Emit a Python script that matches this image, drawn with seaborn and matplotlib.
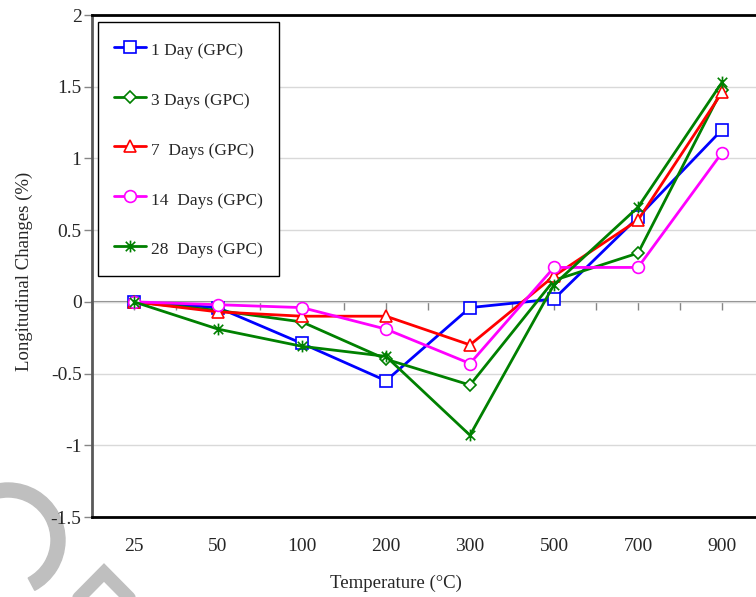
import numpy as np
import pandas as pd
import matplotlib
matplotlib.use("Agg")
import matplotlib.pyplot as plt
import seaborn as sns
from matplotlib.path import Path
from matplotlib.patches import Wedge
from matplotlib.lines import Line2D
from matplotlib.transforms import IdentityTransform

# data
temps = ["25", "50", "100", "200", "300", "500", "700", "900"]
day1 = [0, -0.04, -0.29, -0.55, -0.04, 0.02, 0.59, 1.20]
day3 = [0, -0.06, -0.14, -0.40, -0.58, 0.15, 0.34, 1.48]
day7 = [0, -0.07, -0.10, -0.10, -0.30, 0.18, 0.57, 1.46]
day14 = [0, -0.02, -0.04, -0.19, -0.43, 0.24, 0.24, 1.04]
day28 = [0, -0.19, -0.31, -0.38, -0.93, 0.12, 0.66, 1.53]
labels = ["1 Day (GPC)", "3 Days (GPC)", "7  Days (GPC)", "14  Days (GPC)", "28  Days (GPC)"]
yticks = [-1.5, -1, -0.5, 0, 0.5, 1, 1.5, 2]
ytick_labels = ["-1.5", "-1", "-0.5", "0", "0.5", "1", "1.5", "2"]

# excel style star: an X with a vertical stroke
star = Path([(0, -1), (0, 1), (-0.8, -0.8), (0.8, 0.8), (-0.8, 0.8), (0.8, -0.8)],
            [Path.MOVETO, Path.LINETO, Path.MOVETO, Path.LINETO, Path.MOVETO, Path.LINETO])

series = [day1, day3, day7, day14, day28]
colors = ["#0000ff", "#008000", "#ff0000", "#ff00ff", "#008000"]
markers = ["s", "D", "^", "o", star]
msizes = [8, 6.5, 8.5, 8.5, 8.5]

sns.set_style("white")
plt.rcParams["font.family"] = ["Liberation Serif", "DejaVu Serif"]
plt.rcParams["axes.unicode_minus"] = False

fig = plt.figure(figsize=(7.56, 5.97), dpi=100)
ax = fig.add_axes([92 / 756, 80 / 597, 672 / 756, 502 / 597])

xpos = np.arange(len(temps))
for vals, c, m, ms, lab in zip(series, colors, markers, msizes, labels):
    df = pd.DataFrame({"x": xpos, "y": vals})
    sns.lineplot(data=df, x="x", y="y", ax=ax, color=c, marker=m, markersize=ms,
                 markerfacecolor="white", markeredgecolor=c, markeredgewidth=1.2,
                 linewidth=2, label=lab, sort=False)

ax.set_xlim(-0.5, 7.5)
ax.set_ylim(-1.5, 2)
ax.set_xticks(xpos)
ax.set_xticklabels(temps)
ax.set_yticks(yticks)
ax.set_yticklabels(ytick_labels)
ax.tick_params(axis="x", length=0, pad=15, labelsize=14)
ax.tick_params(axis="y", direction="out", length=6, width=1, color="#868686",
               pad=1.5, labelsize=14, left=True)
ax.yaxis.grid(True, color="#d9d9d9", linewidth=1)
ax.xaxis.grid(False)

for side in ["top", "bottom"]:
    ax.spines[side].set_color("black")
    ax.spines[side].set_linewidth(2)
ax.spines["left"].set_color("#595959")
ax.spines["left"].set_linewidth(2)
ax.spines["right"].set_visible(False)

# category axis crossing at y = 0
sec = ax.secondary_xaxis(1.5 / 3.5)
sec.set_xticks(np.arange(-0.5, 7.6, 0.5))
sec.tick_params(direction="out", length=6, width=1, color="#868686",
                labelbottom=False, labeltop=False)
for sp in sec.spines.values():
    sp.set_color("#868686")
    sp.set_linewidth(1.5)

ax.set_xlabel("Temperature (°C)", fontsize=13.5)
ax.set_ylabel("Longitudinal Changes (%)", fontsize=13.5)
ax.xaxis.set_label_coords(0.452, -0.1155)
ax.yaxis.set_label_coords(-0.088, 0.49)

leg = ax.legend(loc="upper left", bbox_to_anchor=(6 / 672, 495 / 502), borderaxespad=0,
                frameon=True, fancybox=False, edgecolor="black", framealpha=1,
                fontsize=12.5, labelspacing=1.58, handlelength=1.8, handleheight=1.6,
                handletextpad=0.3, borderpad=0.95)
leg.get_frame().set_linewidth(1.0)

# watermark in the lower left corner
wm = "#bfbfbf"
fig.add_artist(Wedge((8, 57), 57, -62, 180, width=14, color=wm, zorder=-1,
                     transform=IdentityTransform()))
fig.add_artist(Line2D([64, 104, 144], [-16, 24.5, -16], color=wm, linewidth=9.5,
                      solid_joinstyle="miter", zorder=-1, transform=IdentityTransform()))

fig.savefig("out.png", dpi=100)
